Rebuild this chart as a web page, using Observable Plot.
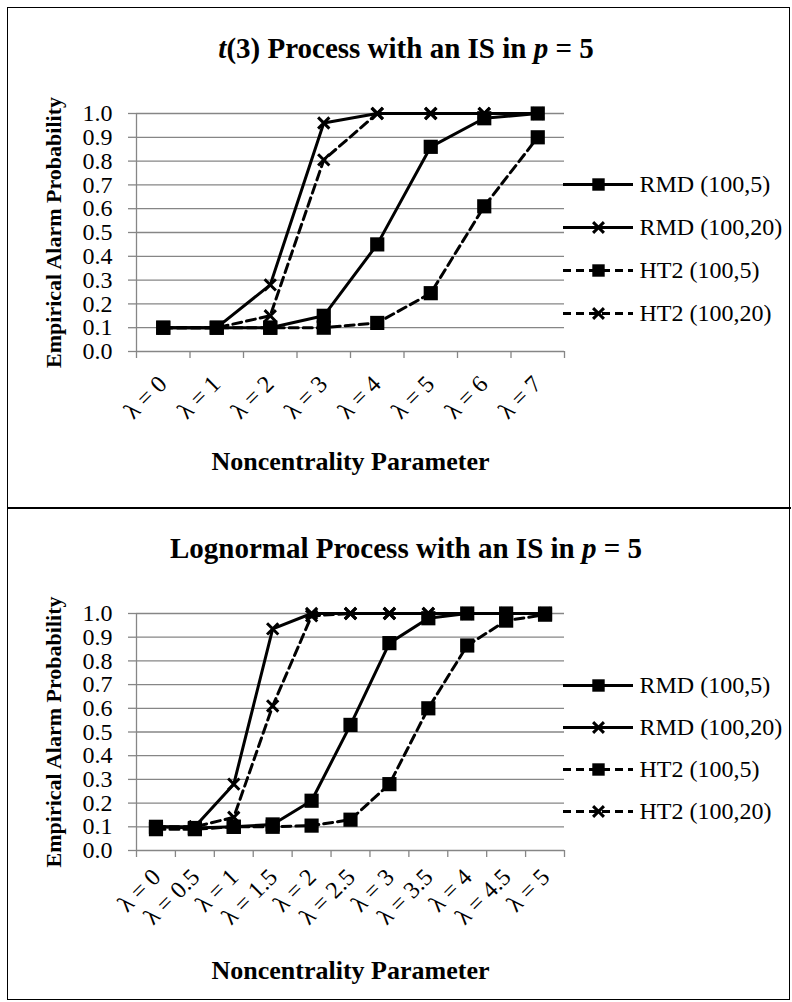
<!DOCTYPE html>
<html>
<head>
<meta charset="utf-8">
<script src="https://cdn.jsdelivr.net/npm/d3@7"></script>
<script src="https://cdn.jsdelivr.net/npm/@observablehq/plot@0.6"></script>
<style>
  html, body { margin: 0; padding: 0; background: #fff; }
  #page { position: relative; width: 792px; height: 1002px; overflow: hidden; font-family: "Liberation Serif", "Times New Roman", serif; }
  .title { position: absolute; left: 20px; width: 772px; text-align: center; font-size: 29px; line-height: 29px; font-weight: bold; color: #000; white-space: nowrap; }
  .frame { position: absolute; left: 7px; top: 7px; width: 783px; height: 993px; border: 1.5px solid #000; box-sizing: border-box; }
  .divider { position: absolute; left: 7px; top: 507px; width: 784px; height: 1.5px; background: #000; }
</style>
</head>
<body>
<div id="page">
  <div class="frame"></div>
  <div class="divider"></div>
  <div class="title" style="top:34px"><i>t</i>(3) Process with an IS in <i>p</i> = 5</div>
  <div class="title" style="top:534px">Lognormal Process with an IS in <i>p</i> = 5</div>
</div>
<script>
// ---------- data ----------
const yTicks = [0, 0.1, 0.2, 0.3, 0.4, 0.5, 0.6, 0.7, 0.8, 0.9, 1.0];
const seriesNames = ["RMD (100,5)", "RMD (100,20)", "HT2 (100,5)", "HT2 (100,20)"];

// Top chart: t(3) process
const catsTop = ["λ = 0", "λ = 1", "λ = 2", "λ = 3", "λ = 4", "λ = 5", "λ = 6", "λ = 7"];
const rmd5Top  = [0.10, 0.10, 0.10, 0.15, 0.45, 0.86, 0.98, 1.00];
const rmd20Top = [0.10, 0.10, 0.28, 0.96, 1.00, 1.00, 1.00, 1.00];
const ht5Top   = [0.10, 0.10, 0.10, 0.10, 0.12, 0.245, 0.61, 0.90];
const ht20Top  = [0.10, 0.10, 0.15, 0.805, 1.00, 1.00, 1.00, 1.00];

// Bottom chart: lognormal process
const catsBot = ["λ = 0", "λ = 0.5", "λ = 1", "λ = 1.5", "λ = 2", "λ = 2.5", "λ = 3", "λ = 3.5", "λ = 4", "λ = 4.5", "λ = 5"];
const rmd5Bot  = [0.10, 0.095, 0.10, 0.11, 0.21, 0.53, 0.875, 0.98, 1.00, 1.00, 1.00];
const rmd20Bot = [0.10, 0.10, 0.28, 0.935, 1.00, 1.00, 1.00, 1.00, 1.00, 1.00, 1.00];
const ht5Bot   = [0.09, 0.09, 0.10, 0.10, 0.105, 0.13, 0.28, 0.60, 0.865, 0.97, 0.995];
const ht20Bot  = [0.10, 0.10, 0.14, 0.61, 0.99, 1.00, 1.00, 1.00, 1.00, 1.00, 1.00];

// series styles (marker + dash)
const seriesStyle = {
  "RMD (100,5)":  {symbol: "square", dashed: false},
  "RMD (100,20)": {symbol: "times",  dashed: false},
  "HT2 (100,5)":  {symbol: "square", dashed: true},
  "HT2 (100,20)": {symbol: "times",  dashed: true}
};

const GRAY = "#868686";
const FONT = "'Liberation Serif', 'Times New Roman', serif";
const DASH = "9,5";
const drawOrder = ["HT2 (100,20)", "HT2 (100,5)", "RMD (100,20)", "RMD (100,5)"];

function seriesMarks(rows, name) {
  const st = seriesStyle[name];
  const data = rows.filter(r => r.name === name);
  const marks = [
    Plot.line(data, {x: "x", y: "y", stroke: "black", strokeWidth: 3, strokeDasharray: st.dashed ? DASH : null})
  ];
  if (st.symbol === "square") {
    marks.push(Plot.dot(data, {x: "x", y: "y", symbol: "square", r: 8, fill: "black", stroke: "none"}));
  } else {
    marks.push(Plot.dot(data, {x: "x", y: "y", symbol: "times", r: 5.2, fill: "none", stroke: "black", strokeWidth: 3}));
  }
  return marks;
}

function chart(cats, values, o) {
  const n = cats.length;
  const rows = [];
  seriesNames.forEach((name, k) => values[k].forEach((v, i) => rows.push({name, x: i + 0.5, y: v})));
  return Plot.plot({
    width: 792, height: 500,
    marginLeft: 136, marginRight: 228, marginTop: 113, marginBottom: o.mb,
    x: {domain: [0, n], axis: null},
    y: {domain: [0, 1], axis: null},
    style: {fontFamily: FONT, color: "black", background: "transparent", overflow: "visible"},
    marks: [
      Plot.ruleY(yTicks, {stroke: GRAY, strokeWidth: 1.3}),
      Plot.ruleX([0], {stroke: GRAY, strokeWidth: 1.3}),
      Plot.axisY({ticks: yTicks, tickSize: 8, tickPadding: 16, tickFormat: d => d.toFixed(1), stroke: GRAY, strokeWidth: 1.3, fill: "black", fontSize: 24, label: null}),
      Plot.axisX({ticks: d3.range(n + 1), tickSize: 7, tickFormat: () => "", stroke: GRAY, strokeWidth: 1.3, label: null}),
      Plot.text(cats, {x: (d, i) => i + 0.5, text: d => d, frameAnchor: "bottom", rotate: -45, textAnchor: "end", lineAnchor: "bottom", dx: o.ldx, dy: o.ldy, fontSize: 24, fill: "black"}),
      Plot.text(["Empirical Alarm Probability"], {text: d => d, frameAnchor: "left", dx: -83, rotate: -90, textAnchor: "middle", lineAnchor: "middle", fontWeight: "bold", fontSize: 22, fill: "black"}),
      Plot.text(["Noncentrality Parameter"], {text: d => d, frameAnchor: "bottom", dy: o.tdy, textAnchor: "middle", lineAnchor: "bottom", fontWeight: "bold", fontSize: 26, fill: "black"}),
      ...drawOrder.flatMap(name => seriesMarks(rows, name))
    ]
  });
}

function legend(spacing) {
  const names = seriesNames;
  const solid = names.filter(n => !seriesStyle[n].dashed);
  const dashed = names.filter(n => seriesStyle[n].dashed);
  const sq = names.filter(n => seriesStyle[n].symbol === "square");
  const tx = names.filter(n => seriesStyle[n].symbol === "times");
  return Plot.plot({
    width: 229, height: spacing * 3 + 40,
    marginLeft: 0, marginRight: 159, marginTop: 20, marginBottom: 20,
    x: {domain: [0, 1], axis: null},
    y: {type: "point", domain: names, padding: 0, axis: null},
    style: {fontFamily: FONT, color: "black", background: "transparent", overflow: "visible"},
    marks: [
      Plot.ruleY(solid, {y: d => d, x1: () => 0, x2: () => 1, stroke: "black", strokeWidth: 3}),
      Plot.ruleY(dashed, {y: d => d, x1: () => 0, x2: () => 1, stroke: "black", strokeWidth: 3, strokeDasharray: "8,5"}),
      Plot.dot(sq, {x: () => 0.5, y: d => d, symbol: "square", r: 7, fill: "black", stroke: "none"}),
      Plot.dot(tx, {x: () => 0.5, y: d => d, symbol: "times", r: 5, fill: "none", stroke: "black", strokeWidth: 3}),
      Plot.text(names, {x: () => 1, y: d => d, text: d => d, textAnchor: "start", dx: 6, fontSize: 24, fill: "black"})
    ]
  });
}

const page = document.getElementById("page");
function place(el, left, top) {
  el.style.position = "absolute";
  el.style.left = left + "px";
  el.style.top = top + "px";
  page.appendChild(el);
}

place(chart(catsTop, [rmd5Top, rmd20Top, ht5Top, ht20Top], {mb: 149, ldx: 5, ldy: 34, tdy: 118}), 0, 0);
place(chart(catsBot, [rmd5Bot, rmd20Bot, ht5Bot, ht20Bot], {mb: 150, ldx: 6, ldy: 28, tdy: 128}), 0, 500);
place(legend(43), 563, 164);
place(legend(42), 563, 665);
</script>
</body>
</html>
